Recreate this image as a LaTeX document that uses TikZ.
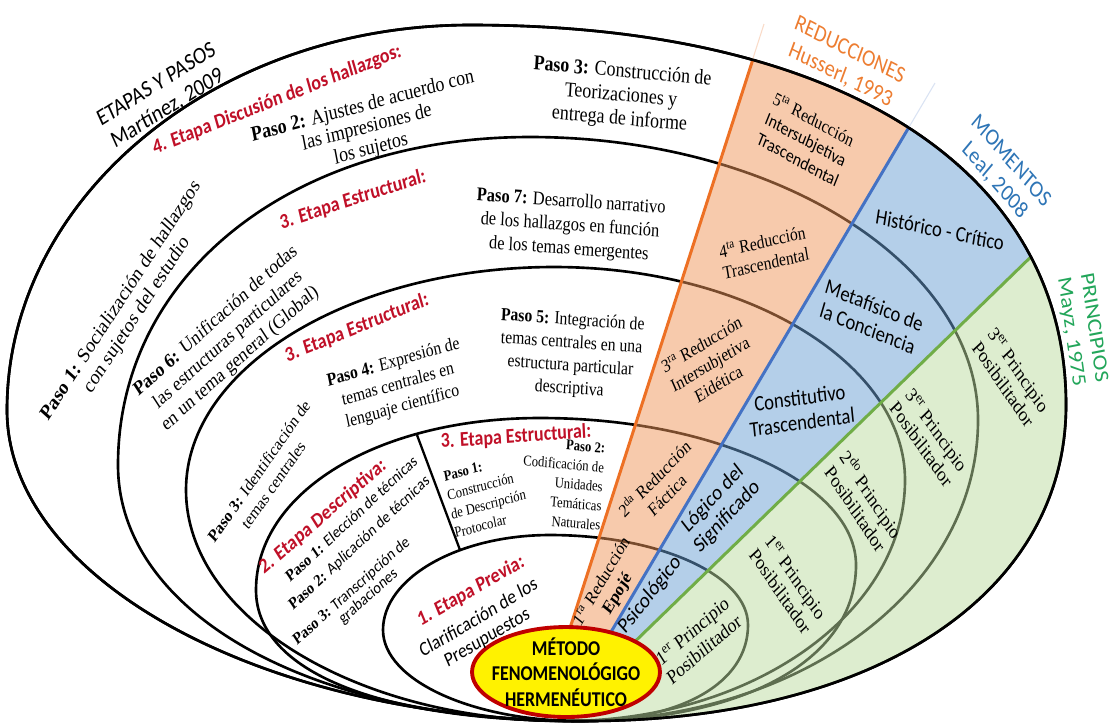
\documentclass[tikz,border=0pt]{standalone}
\usepackage{fontspec}
\setmainfont{Liberation Serif}
\newfontfamily\carl{Carlito}
\usetikzlibrary{shapes.geometric}
\newcommand{\fsz}[2]{\fontsize{#1}{#2}\selectfont}
\definecolor{etapared}{RGB}{192,16,40}
\definecolor{redline}{RGB}{237,112,36}
\definecolor{redtext}{RGB}{237,125,49}
\definecolor{redfill}{RGB}{241,151,91}
\definecolor{momline}{RGB}{68,114,196}
\definecolor{momtext}{RGB}{46,117,182}
\definecolor{momfill}{RGB}{107,161,213}
\definecolor{prinline}{RGB}{112,173,71}
\definecolor{printext}{RGB}{34,166,90}
\definecolor{prinfill}{RGB}{189,221,161}
\definecolor{metodoborder}{RGB}{192,0,0}
\begin{document}
\begin{tikzpicture}[x=0.02cm,y=-0.02cm,
   loop/.style={line width=1.5pt},
   sector/.style={line width=1.7pt},
   txt/.style={inner sep=0pt,align=center,xscale=0.85},
   autor/.style={txt,font={\carl\fsz{13.5}{15.5}}},
   etapa/.style={txt,font={\carl\bfseries\fsz{12}{14}},text=etapared},
   paso/.style={txt,font={\fsz{12}{13.5}}},
   pasomed/.style={txt,font={\fsz{11}{13.5}}},
   pasochico/.style={txt,font={\fsz{10.5}{13}}},
   pasito/.style={txt,anchor=base west,font={\fsz{9.5}{11}}},
   mini/.style={txt,font={\fsz{8.5}{11}}},
   reduc/.style={txt,font={\fsz{10.5}{12.5}}},
   momento/.style={txt,font={\carl\fsz{12.5}{14}}},
   princ/.style={txt,font={\fsz{11.5}{13}}}]
\path[use as bounding box,fill=white] (0,0) rectangle (1111,725);

% rings
\draw[loop] (470,25) .. controls +(-255,0) and +(0,-212) .. (7,410) .. controls +(0,171) and +(-318,0) .. (585,721) .. controls +(289,0) and +(0,190) .. (1066,405) .. controls +(0,-236) and +(370,0) .. (470,25) -- cycle;
\draw[loop] (530,137) .. controls +(-239,0) and +(0,-190) .. (118,465) .. controls +(0,148) and +(-265,0) .. (575,721) .. controls +(226,0) and +(0,169) .. (978,420) .. controls +(0,-156) and +(246,0) .. (530,137) -- cycle;
\draw[loop] (554,267) .. controls +(-202,0) and +(0,-123) .. (186,490) .. controls +(0,127) and +(-208,0) .. (565,721) .. controls +(187,0) and +(0,133) .. (905,480) .. controls +(0,-117) and +(193,0) .. (554,267) -- cycle;
\draw[loop] (540,418) .. controls +(-162,0) and +(0,-98) .. (256,590) .. controls +(0,81) and +(-200,0) .. (578,721) .. controls +(167,0) and +(0,94) .. (856,565) .. controls +(0,-81) and +(174,0) .. (540,418) -- cycle;
\draw[loop] (550,535) .. controls +(-92,0) and +(0,-52) .. (383,630) .. controls +(0,50) and +(-108,0) .. (580,721) .. controls +(101,0) and +(0,58) .. (748,625) .. controls +(0,-50) and +(109,0) .. (550,535) -- cycle;
\draw[line width=1.3pt] (417,435) -- (460,550);

\coordinate (oA) at (561,656); \coordinate (oB) at (772,0); \coordinate (oF) at (764,24);
\coordinate (bA) at (598,654); \coordinate (bB) at (984,0); \coordinate (bF) at (935,83);
\coordinate (gA) at (617,659); \coordinate (gB) at (1111,179);
\draw[redline!25,line width=0.6pt] (oA) -- (oF);
\draw[momline!20,line width=0.6pt] (bA) -- (bF);

\begin{scope}
\clip (470,25) .. controls +(-255,0) and +(0,-212) .. (7,410) .. controls +(0,171) and +(-318,0) .. (585,721) .. controls +(289,0) and +(0,190) .. (1066,405) .. controls +(0,-236) and +(370,0) .. (470,25) -- cycle;
\fill[redfill,fill opacity=0.5] (oA) -- (oB) -- (bB) -- (bA) -- cycle;
\fill[momfill,fill opacity=0.5] (bA) -- (bB) -- (1111,0) -- (gB) -- (gA) -- cycle;
\fill[prinfill,fill opacity=0.5] (gA) -- (gB) -- (1111,725) -- (566,725) -- (566,672) -- cycle;
\draw[sector,redline] (oA) -- (oB);
\draw[sector,momline] (bA) -- (bB);
\draw[sector,prinline] (gA) -- (gB);
\end{scope}
\draw[loop] (470,25) .. controls +(-255,0) and +(0,-212) .. (7,410) .. controls +(0,171) and +(-318,0) .. (585,721) .. controls +(289,0) and +(0,190) .. (1066,405) .. controls +(0,-236) and +(370,0) .. (470,25) -- cycle;

\node[ellipse,draw=metodoborder,line width=2.2pt,fill=yellow,minimum width=3.76cm,minimum height=1.8cm,inner sep=0pt] (metodo) at (566,672) {};
\node[txt,font={\carl\bfseries\fsz{12}{14.5}}] (metodotxt) at (metodo.center) {MÉTODO\\FENOMENOLÓGIGO\\HERMENÉUTICO};

% headings outside
\node[autor,rotate=28] (etapas) at (162,97) {ETAPAS Y PASOS\\Martínez, 2009};
\node[autor,text=redtext,rotate=-23.4] (reducciones) at (845,63) {REDUCCIONES\\Husserl, 1993};
\node[autor,text=momtext,rotate=-44.4] (momentos) at (1003,171) {MOMENTOS\\Leal, 2008};
\node[autor,text=printext,rotate=-80.6] (principios) at (1082,330) {PRINCIPIOS\\Mayz, 1975};

% etapas y pasos
\node[etapa,rotate=18.6] (etapa4) at (277,100) {4. Etapa Discusión de los hallazgos:};
\node[paso,font={\fsz{12}{12.5}},rotate=12.8] (paso2d) at (367,128) {\textbf{Paso 2:} Ajustes de acuerdo con\\las impresiones de\\los sujetos};
\node[paso,rotate=-4.3] (paso3d) at (621,96) {\textbf{Paso 3:} Construcción de\\Teorizaciones y\\entrega de informe};
\node[paso,rotate=52.6] (paso1d) at (129,308) {\textbf{Paso 1:} Socialización de hallazgos\\con sujetos del estudio};
\node[etapa,rotate=15.4] (etapa3a) at (353,200) {3. Etapa Estructural:};
\node[paso,font={\fsz{11.5}{13.5}},rotate=37.4] (paso6) at (228,340) {\textbf{Paso 6:} Unificación de todas\\las estructuras particulares\\en un tema general (Global)};
\node[pasomed,rotate=-3.4] (paso7) at (570,226) {\textbf{Paso 7:} Desarrollo narrativo\\de los hallazgos en función\\de los temas emergentes};
\node[etapa,rotate=19] (etapa3b) at (357,328) {3. Etapa Estructural:};
\node[pasochico,font={\fsz{10}{12.5}},rotate=50.5] (paso3e) at (266,478) {\textbf{Paso 3:} Identificación de\\temas centrales};
\node[pasochico,rotate=13.7] (paso4) at (398,385) {\textbf{Paso 4:} Expresión de\\temas centrales en\\lenguaje científico};
\node[pasochico,rotate=-3.4] (paso5) at (571,355) {\textbf{Paso 5:} Integración de\\temas centrales en una\\estructura particular\\descriptiva};
\node[etapa,anchor=base west,rotate=36.5] (etapa2) at (264,575) {2. Etapa Descriptiva:};
\node[pasito,rotate=38.4] (paso1b) at (290,583) {\textbf{Paso 1:} {\carl Elección de técnicas}};
\node[pasito,rotate=38.4] (paso2b) at (293,611) {\textbf{Paso 2:} {\carl Aplicación de técnicas}};
\node[pasito,rotate=37.4] (paso3b) at (297,646) {\textbf{Paso 3:} {\carl Transcripción de}};
\node[pasito,rotate=37.4] (paso3bb) at (343,625) {\carl grabaciones};
\node[etapa,rotate=3.4] (etapa3c) at (516,437) {3. Etapa Estructural:};
\node[mini,align=left,anchor=west,rotate=12.8] (paso1c) at (449,505) {\textbf{Paso 1:}\\Construcción\\de Descripción\\Protocolar};
\node[mini,align=right,anchor=east,rotate=-4.3] (paso2c) at (603,487) {\textbf{Paso 2:}\\Codificación de\\Unidades\\Temáticas\\Naturales};
\node[etapa,rotate=26.1] (etapa1) at (471,591) {1. Etapa Previa:};
\node[txt,font={\carl\fsz{11.5}{12.5}},rotate=27.1] (clarif) at (483,628) {Clarificación de los\\Presupuestos};

% reducciones
\node[reduc,rotate=55.8] (red1) at (610,588) {1\textsuperscript{ra} Reducción\\\textbf{Epojé}};
\node[reduc,rotate=41.4] (red2) at (660,486) {2\textsuperscript{da} Reducción\\Fáctica};
\node[reduc,rotate=27.1] (red3) at (710,364) {3\textsuperscript{ra} Reducción\\Intersubjetiva\\Eidética};
\node[reduc,rotate=11.1] (red4) at (764,252) {4\textsuperscript{ta} Reducción\\Trascendental};
\node[reduc,rotate=-25.2] (red5) at (806,139) {5\textsuperscript{ta} Reducción\\{\carl Intersubjetiva}\\{\carl Trascendental}};

% momentos
\node[momento,rotate=47.4] (psico) at (650,595) {Psicológico};
\node[momento,rotate=42.3] (logico) at (720,508) {Lógico del\\Significado};
\node[momento,rotate=6.8] (constit) at (801,410) {Constitutivo\\Trascendental};
\node[momento,rotate=-19] (metaf) at (871,317) {Metafísico de\\la Conciencia};
\node[momento,rotate=-10.2] (histor) at (940,230) {Histórico - Crítico};

% principios
\node[princ,rotate=36.5] (prin1a) at (698,640) {1\textsuperscript{er} Principio\\Posibilitador};
\node[princ,rotate=-51.6] (prin1b) at (788,584) {1\textsuperscript{er} Principio\\Posibilitador};
\node[princ,rotate=-52.6] (prin2) at (864,501) {2\textsuperscript{do} Principio\\Posibilitador};
\node[princ,rotate=-50.5] (prin3a) at (929,437) {3\textsuperscript{er} Principio\\Posibilitador};
\node[princ,rotate=-51.6] (prin3b) at (1011,377) {3\textsuperscript{er} Principio\\Posibilitador};
\end{tikzpicture}
\end{document}
